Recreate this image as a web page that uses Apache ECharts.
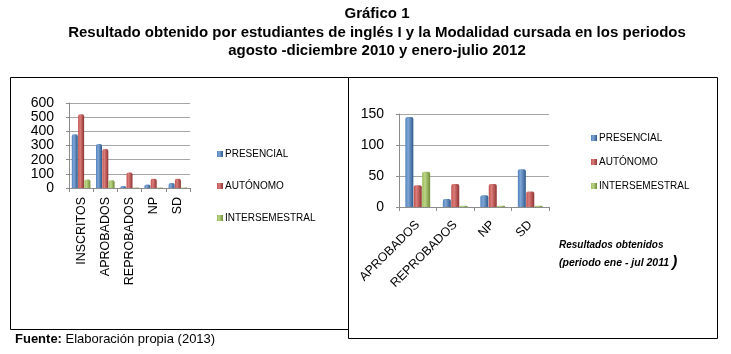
<!DOCTYPE html>
<html>
<head>
<meta charset="utf-8">
<script src="https://cdn.jsdelivr.net/npm/echarts@6/dist/echarts.min.js"></script>
<style>
html, body { margin: 0; padding: 0; background: #fff; }
#main { width: 731px; height: 354px; }
</style>
</head>
<body>
<div id="main"></div>
<script>
// left chart: periodo ago-dic 2010
const cats1 = ['INSCRITOS', 'APROBADOS', 'REPROBADOS', 'NP', 'SD']
const pres1 = [380, 310, 15, 25, 35]
const auto1 = [520, 275, 110, 65, 65]
const inter1 = [60, 55, 3, 3, 3]
const ticks1 = { min: 0, max: 600, interval: 100 }

// right chart: periodo ene-jul 2011
const cats2 = ['APROBADOS', 'REPROBADOS', 'NP', 'SD']
const pres2 = [145, 13, 19, 61]
const auto2 = [35, 37, 37, 25]
const inter2 = [57, 2, 2, 2]
const ticks2 = { min: 0, max: 150, interval: 50 }

const names = ['PRESENCIAL', 'AUTÓNOMO', 'INTERSEMESTRAL']
const base = ['#4F81BD', '#C0504D', '#9BBB59']
const light = ['#7FA6D6', '#DB7D7A', '#BBD587']
const dark = ['#2F5A8C', '#8E3331', '#6F8C38']

const font = 'Liberation Sans, Arial, sans-serif'

function grad (i) {
  return new echarts.graphic.LinearGradient(0, 0, 1, 0, [
    { offset: 0, color: base[i] },
    { offset: 0.35, color: light[i] },
    { offset: 1, color: dark[i] }
  ])
}

function makeBars (data, idx, width) {
  return data.map((d, i) => ({
    name: names[i],
    type: 'bar',
    xAxisIndex: idx,
    yAxisIndex: idx,
    data: d,
    barWidth: width,
    barGap: '5%',
    itemStyle: { color: grad(i), borderRadius: [2, 2, 0, 0] },
    emphasis: { disabled: true }
  }))
}

function yAx (idx, t) {
  return {
    type: 'value',
    gridIndex: idx,
    min: t.min,
    max: t.max,
    interval: t.interval,
    axisLine: { show: true, lineStyle: { color: '#8c8c8c' } },
    axisTick: { show: true, length: 3, lineStyle: { color: '#8c8c8c' } },
    axisLabel: { color: '#000', fontSize: 14, fontFamily: font, margin: 15 },
    splitLine: { lineStyle: { color: '#a6a6a6', width: 1 } }
  }
}

function xAx (idx, cats, rot) {
  return {
    type: 'category',
    gridIndex: idx,
    data: cats,
    axisLine: { lineStyle: { color: '#8c8c8c' } },
    axisTick: { show: true, length: 4, lineStyle: { color: '#8c8c8c' } },
    axisLabel: {
      color: '#000',
      fontSize: rot === 90 ? 12.5 : 12.5,
      fontFamily: font,
      rotate: rot,
      margin: rot === 90 ? 9 : 16,
      interval: 0
    }
  }
}

function legend (left, top, gap) {
  return {
    orient: 'vertical',
    left: left,
    top: top,
    itemWidth: 6,
    itemHeight: 6,
    itemGap: gap,
    icon: 'rect',
    selectedMode: false,
    textStyle: { color: '#000', fontSize: 10, fontFamily: font, padding: [0, 0, 0, -3] },
    data: names
  }
}

const titleStyle = { fill: '#000', font: 'bold 15px ' + font, textAlign: 'center', textVerticalAlign: 'middle' }

const chart = echarts.init(document.getElementById('main'))
const option = {
  backgroundColor: '#fff',
  animation: false,
  grid: [
    { left: 69, top: 103, width: 121, height: 85 },
    { left: 399, top: 114, width: 150, height: 93 }
  ],
  xAxis: [xAx(0, cats1, 90), xAx(1, cats2, 45)],
  yAxis: [yAx(0, ticks1), yAx(1, ticks2)],
  legend: [legend(212, 144, 22), legend(586, 128, 14)],
  series: [
    ...makeBars([pres1, auto1, inter1], 0, 6),
    ...makeBars([pres2, auto2, inter2], 1, 8)
  ],
  graphic: [
    { type: 'text', style: Object.assign({}, titleStyle, { text: 'Gráfico 1', x: 377, y: 14 }) },
    { type: 'text', style: Object.assign({}, titleStyle, { text: 'Resultado obtenido por estudiantes de inglés I y la Modalidad cursada en los periodos', x: 377, y: 33 }) },
    { type: 'text', style: Object.assign({}, titleStyle, { text: 'agosto -diciembre 2010 y enero-julio 2012', x: 377, y: 51 }) },
    // frame of both cells
    { type: 'rect', shape: { x: 10.5, y: 77.5, width: 338, height: 252 }, style: { fill: 'none', stroke: '#000', lineWidth: 1 } },
    { type: 'rect', shape: { x: 348.5, y: 77.5, width: 369, height: 261 }, style: { fill: 'none', stroke: '#000', lineWidth: 1 } },
    { type: 'text', style: { text: 'Resultados obtenidos', x: 559, y: 245, fill: '#000', font: 'italic bold 10px ' + font, textVerticalAlign: 'middle' } },
    {
      type: 'text',
      style: {
        text: '(periodo ene - jul 2011{p|)}',
        x: 559,
        y: 263,
        fill: '#000',
        font: 'italic bold 10.5px ' + font,
        textVerticalAlign: 'middle',
        rich: { p: { fontSize: 16, fontWeight: 'bold', fontStyle: 'italic', fontFamily: font, padding: [0, 0, 0, 3] } }
      }
    },
    { type: 'text', style: { text: '{b|Fuente:} Elaboración propia (2013)', x: 15, y: 339, fill: '#000', font: '13px ' + font, textVerticalAlign: 'middle', rich: { b: { fontWeight: 'bold', fontSize: 13, fontFamily: font } } } }
  ]
}
chart.setOption(option)
</script>
</body>
</html>
